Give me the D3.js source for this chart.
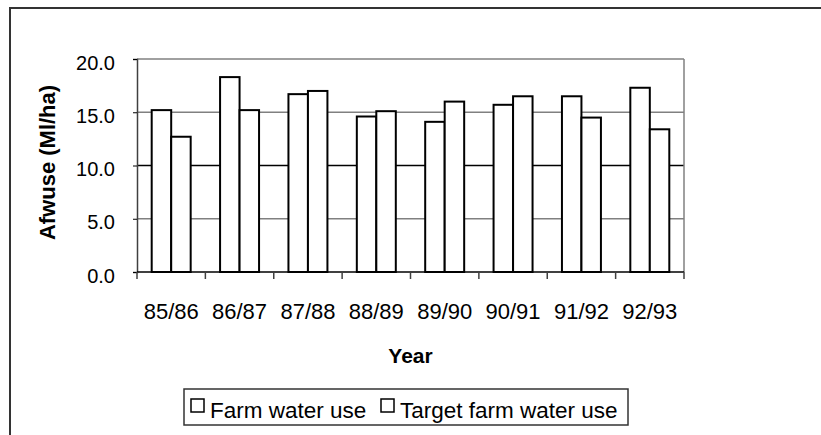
<!DOCTYPE html>
<html>
<head>
<meta charset="utf-8">
<script src="https://cdn.jsdelivr.net/npm/d3@7"></script>
<style>
  body { margin: 0; background: #fff; }
  text { font-family: "Liberation Sans", Arial, sans-serif; fill: #000; }
</style>
</head>
<body>
<div id="chart"></div>
<script>
// data
const years = ['85/86', '86/87', '87/88', '88/89', '89/90', '90/91', '91/92', '92/93'];
const farmUse = [15.2, 18.3, 16.7, 14.6, 14.1, 15.7, 16.5, 17.3];
const targetUse = [12.7, 15.2, 17.0, 15.1, 16.0, 16.5, 14.5, 13.4];
const seriesNames = ['Farm water use', 'Target farm water use'];
const yTicks = [0, 5, 10, 15, 20];

const W = 821, H = 435;
const margin = { top: 59, left: 137, right: 821 - 684, bottom: 435 - 272 };
const width = W - margin.left - margin.right;
const height = H - margin.top - margin.bottom;

const svg = d3.select('#chart').append('svg')
  .attr('width', W)
  .attr('height', H);

// outer chart frame (cropped on right/bottom)
svg.append('rect')
  .attr('x', 10).attr('y', 8)
  .attr('width', W + 20).attr('height', H + 20)
  .attr('fill', 'none')
  .attr('stroke', '#333')
  .attr('stroke-width', 2);

const chart = svg.append('g')
  .attr('transform', `translate(${margin.left},${margin.top})`);

// scales
const x0 = d3.scaleBand().domain(years).range([0, width]).padding(0);
const x1 = d3.scaleBand().domain(seriesNames).range([0, x0.bandwidth()])
  .paddingInner(0).paddingOuter(0.754);
const y = d3.scaleLinear().domain([0, 20]).range([height, 0]);

// gridlines
chart.append('g')
  .selectAll('line')
  .data(yTicks.filter(d => d > 0))
  .enter().append('line')
  .attr('x1', 0).attr('x2', width)
  .attr('y1', d => y(d)).attr('y2', d => y(d))
  .attr('stroke', d => d === 10 ? '#000' : '#808080')
  .attr('stroke-width', 1.5);

// plot right border
chart.append('line')
  .attr('x1', width).attr('x2', width)
  .attr('y1', 0).attr('y2', height)
  .attr('stroke', '#808080')
  .attr('stroke-width', 1.5);

// bars
const rows = years.map((yr, i) => ({ yr, vals: [farmUse[i], targetUse[i]] }));
const groups = chart.selectAll('.grp')
  .data(rows)
  .enter().append('g')
  .attr('class', 'grp')
  .attr('transform', d => `translate(${x0(d.yr)},0)`);

groups.selectAll('rect')
  .data(d => d.vals.map((v, k) => ({ name: seriesNames[k], v })))
  .enter().append('rect')
  .attr('x', d => x1(d.name))
  .attr('y', d => y(d.v))
  .attr('width', x1.bandwidth())
  .attr('height', d => height - y(d.v))
  .attr('fill', '#fff')
  .attr('stroke', '#000')
  .attr('stroke-width', 2);

// y axis
const yAxis = chart.append('g')
  .call(d3.axisLeft(y).tickValues(yTicks).tickFormat(d3.format('.1f'))
    .tickSize(4).tickPadding(18));
yAxis.select('.domain').attr('stroke', '#404040').attr('stroke-width', 1.5);
yAxis.selectAll('.tick line').attr('stroke', '#000');
yAxis.selectAll('text')
  .attr('dy', '0.5em')
  .style('font-size', '20px')
  .style('font-family', '"Liberation Sans", Arial, sans-serif');

// x axis: labels at category centres, ticks at boundaries
const xAxis = chart.append('g')
  .attr('transform', `translate(0,${height})`)
  .call(d3.axisBottom(x0).tickSize(0).tickPadding(31));
xAxis.select('.domain').remove();
xAxis.selectAll('text')
  .style('font-size', '22px')
  .style('font-family', '"Liberation Sans", Arial, sans-serif');

chart.append('line')
  .attr('x1', 0).attr('x2', width)
  .attr('y1', height).attr('y2', height)
  .attr('stroke', '#000')
  .attr('stroke-width', 1.5);

const bounds = years.map(d => x0(d)).concat([width]);
chart.append('g')
  .selectAll('line')
  .data(bounds)
  .enter().append('line')
  .attr('x1', d => d).attr('x2', d => d)
  .attr('y1', height).attr('y2', height + 7)
  .attr('stroke', '#404040')
  .attr('stroke-width', 1.5);

// axis titles
svg.append('text')
  .attr('transform', `translate(55,${margin.top + height / 2 - 3}) rotate(-90)`)
  .attr('text-anchor', 'middle')
  .style('font-size', '22px')
  .style('font-weight', 'bold')
  .text('Afwuse (Ml/ha)');

svg.append('text')
  .attr('x', margin.left + width / 2)
  .attr('y', 363)
  .attr('text-anchor', 'middle')
  .style('font-size', '21px')
  .style('font-weight', 'bold')
  .text('Year');

// legend
const legend = svg.append('g');
legend.append('rect')
  .attr('x', 184).attr('y', 389)
  .attr('width', 628 - 184).attr('height', 425 - 389)
  .attr('fill', '#fff')
  .attr('stroke', '#333')
  .attr('stroke-width', 1.5);

const legX = [191, 381];
const items = legend.selectAll('.item')
  .data(seriesNames)
  .enter().append('g')
  .attr('class', 'item')
  .attr('transform', (d, i) => `translate(${legX[i]},399)`);
items.append('rect')
  .attr('width', 13).attr('height', 13)
  .attr('fill', '#fff')
  .attr('stroke', '#000')
  .attr('stroke-width', 1.5);
items.append('text')
  .attr('x', 19).attr('y', 19)
  .style('font-size', '22.5px')
  .text(d => d);
</script>
</body>
</html>
